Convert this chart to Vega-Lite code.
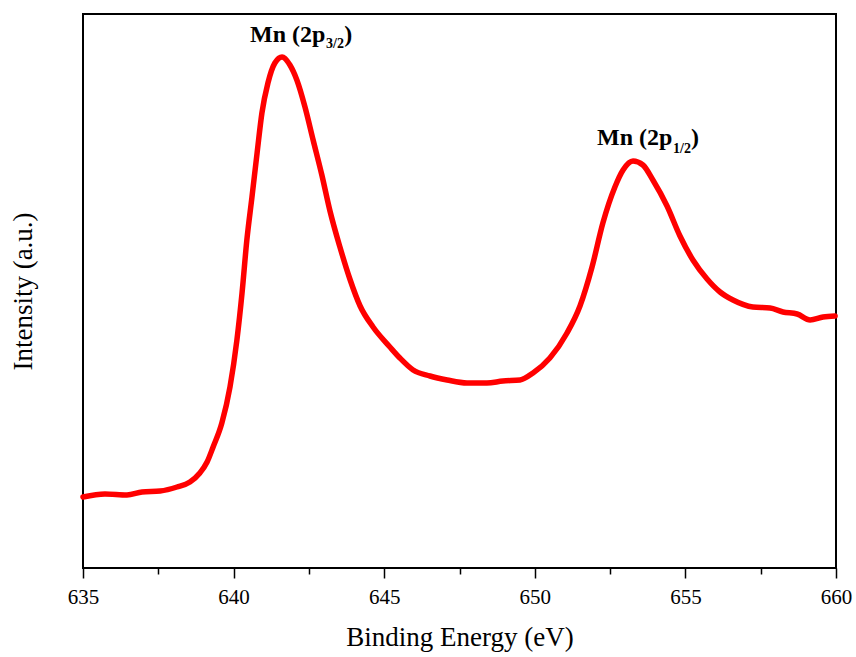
{
  "$schema": "https://vega.github.io/schema/vega-lite/v6.json",
  "autosize": {"type": "none"},
  "padding": {"left": 83, "top": 14, "right": 20, "bottom": 89},
  "width": 753,
  "height": 554,
  "background": "white",
  "config": {
    "view": {"stroke": "black", "strokeWidth": 2},
    "font": "Liberation Serif"
  },
  "datasets": {
    "spectrum": [
      {"E": 635.0, "I": 71}, {"E": 635.73, "I": 74}, {"E": 636.46, "I": 73}, {"E": 636.96, "I": 76},
      {"E": 637.56, "I": 77}, {"E": 638.12, "I": 81}, {"E": 638.55, "I": 86}, {"E": 638.88, "I": 95},
      {"E": 639.12, "I": 106}, {"E": 639.32, "I": 121}, {"E": 639.61, "I": 145}, {"E": 639.88, "I": 181},
      {"E": 640.11, "I": 228}, {"E": 640.28, "I": 275}, {"E": 640.44, "I": 328}, {"E": 640.61, "I": 371},
      {"E": 640.78, "I": 415}, {"E": 640.94, "I": 455}, {"E": 641.14, "I": 485}, {"E": 641.37, "I": 505},
      {"E": 641.61, "I": 511}, {"E": 641.87, "I": 503}, {"E": 642.10, "I": 488}, {"E": 642.37, "I": 461},
      {"E": 642.64, "I": 428}, {"E": 642.93, "I": 393}, {"E": 643.20, "I": 357}, {"E": 643.53, "I": 321},
      {"E": 643.86, "I": 289}, {"E": 644.20, "I": 262}, {"E": 644.63, "I": 241}, {"E": 645.19, "I": 221},
      {"E": 645.52, "I": 210}, {"E": 645.96, "I": 198}, {"E": 646.52, "I": 192}, {"E": 647.09, "I": 188},
      {"E": 647.75, "I": 185}, {"E": 648.41, "I": 185}, {"E": 648.94, "I": 187}, {"E": 649.51, "I": 188},
      {"E": 649.94, "I": 195}, {"E": 650.50, "I": 210}, {"E": 651.07, "I": 235}, {"E": 651.50, "I": 262},
      {"E": 651.90, "I": 301}, {"E": 652.26, "I": 345}, {"E": 652.66, "I": 381}, {"E": 652.93, "I": 398},
      {"E": 653.26, "I": 407}, {"E": 653.59, "I": 403}, {"E": 653.92, "I": 388}, {"E": 654.39, "I": 362},
      {"E": 654.82, "I": 332}, {"E": 655.25, "I": 308}, {"E": 655.72, "I": 289}, {"E": 656.15, "I": 276},
      {"E": 656.58, "I": 268}, {"E": 657.24, "I": 261}, {"E": 657.81, "I": 260}, {"E": 658.24, "I": 256},
      {"E": 658.71, "I": 254}, {"E": 659.14, "I": 248}, {"E": 659.57, "I": 251}, {"E": 659.97, "I": 252}
    ],
    "labels": [
      {"E": 640.545, "I": 526, "text": "Mn (2p", "kind": "main"},
      {"E": 643.07, "I": 520, "text": "3/2", "kind": "sub"},
      {"E": 643.67, "I": 526, "text": ")", "kind": "main"},
      {"E": 652.065, "I": 423, "text": "Mn (2p", "kind": "main"},
      {"E": 654.59, "I": 415, "text": "1/2", "kind": "sub"},
      {"E": 655.19, "I": 423, "text": ")", "kind": "main"}
    ]
  },
  "layer": [
    {
      "data": {"name": "spectrum"},
      "mark": {"type": "line", "color": "#ff0000", "strokeWidth": 5.5, "interpolate": "monotone", "strokeCap": "round", "strokeJoin": "round"},
      "encoding": {
        "x": {
          "field": "E", "type": "quantitative",
          "scale": {"domain": [635, 660], "nice": false, "zero": false},
          "axis": {
            "title": "Binding Energy (eV)",
            "values": [635, 637.5, 640, 642.5, 645, 647.5, 650, 652.5, 655, 657.5, 660],
            "labelExpr": "datum.value % 5 === 0 ? datum.value : ''",
            "tickSize": {"condition": {"test": "datum.value % 5 === 0", "value": 10}, "value": 6},
            "tickColor": "black", "tickWidth": 1.5,
            "domain": false, "grid": false,
            "labelFont": "Liberation Serif", "labelFontSize": 21, "labelColor": "black", "labelPadding": 8,
            "labelOverlap": false, "labelFlush": false,
            "titleFont": "Liberation Serif", "titleFontSize": 27, "titleFontWeight": "normal", "titleColor": "black", "titlePadding": 17
          }
        },
        "y": {
          "field": "I", "type": "quantitative",
          "scale": {"domain": [0, 554], "nice": false, "zero": false},
          "axis": {
            "title": "Intensity (a.u.)",
            "ticks": false, "labels": false, "domain": false, "grid": false,
            "titleFont": "Liberation Serif", "titleFontSize": 27, "titleFontWeight": "normal", "titleColor": "black", "titlePadding": 46
          }
        }
      }
    },
    {
      "data": {"name": "labels"},
      "transform": [{"filter": "datum.kind === 'main'"}],
      "mark": {"type": "text", "align": "left", "baseline": "alphabetic", "font": "Liberation Serif", "fontWeight": "bold", "fontSize": 24, "color": "black"},
      "encoding": {
        "x": {"field": "E", "type": "quantitative"},
        "y": {"field": "I", "type": "quantitative"},
        "text": {"field": "text"}
      }
    },
    {
      "data": {"name": "labels"},
      "transform": [{"filter": "datum.kind === 'sub'"}],
      "mark": {"type": "text", "align": "left", "baseline": "alphabetic", "font": "Liberation Serif", "fontWeight": "bold", "fontSize": 14, "color": "black"},
      "encoding": {
        "x": {"field": "E", "type": "quantitative"},
        "y": {"field": "I", "type": "quantitative"},
        "text": {"field": "text"}
      }
    }
  ]
}
